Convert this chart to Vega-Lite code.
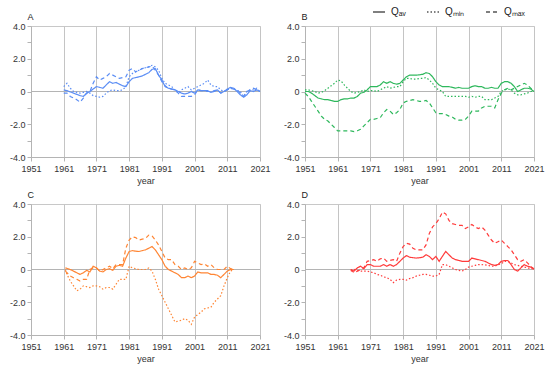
{
"$schema":"https://vega.github.io/schema/vega-lite/v6.json",
"padding":{"left":8,"right":5,"top":4,"bottom":2},
"background":"white",
"config":{"font":"Liberation Sans","view":{"stroke":"#c8c8c8"},
 "axis":{"labelFontSize":9,"titleFontSize":9,"titleFontWeight":"normal","labelColor":"#333","titleColor":"#333","domainColor":"#b4b4b4","tickColor":"#b4b4b4","gridColor":"#c4c4c4","labelOverlap":false,"labelFlush":false,"labelBound":false},
 "axisY":{"titleAngle":0,"titleAlign":"left","titleBaseline":"alphabetic","titleX":-4,"titleY":-7,"titleColor":"#222"}},
"datasets":{
"A":[
{"x":1961,"s":"av","v":0.1},{"x":1962,"s":"av","v":0.05},{"x":1964,"s":"av","v":-0.1},{"x":1966,"s":"av","v":-0.25},{"x":1967,"s":"av","v":-0.3},{"x":1968,"s":"av","v":-0.1},{"x":1969,"s":"av","v":0},{"x":1970,"s":"av","v":0.15},{"x":1971,"s":"av","v":0.3},{"x":1972,"s":"av","v":0.25},{"x":1973,"s":"av","v":0.2},{"x":1974,"s":"av","v":0.4},{"x":1975,"s":"av","v":0.6},{"x":1976,"s":"av","v":0.5},{"x":1977,"s":"av","v":0.55},{"x":1978,"s":"av","v":0.45},{"x":1979,"s":"av","v":0.35},{"x":1980,"s":"av","v":0.3},{"x":1981,"s":"av","v":0.6},{"x":1982,"s":"av","v":0.8},{"x":1983,"s":"av","v":0.85},{"x":1984,"s":"av","v":0.9},{"x":1985,"s":"av","v":0.95},{"x":1986,"s":"av","v":1.05},{"x":1987,"s":"av","v":1.15},{"x":1988,"s":"av","v":1.35},{"x":1989,"s":"av","v":1.4},{"x":1990,"s":"av","v":1.0},{"x":1991,"s":"av","v":0.7},{"x":1992,"s":"av","v":0.3},{"x":1993,"s":"av","v":0.2},{"x":1994,"s":"av","v":0.15},{"x":1995,"s":"av","v":0.1},{"x":1996,"s":"av","v":0},{"x":1997,"s":"av","v":-0.1},{"x":1998,"s":"av","v":-0.15},{"x":1999,"s":"av","v":-0.1},{"x":2000,"s":"av","v":0},{"x":2001,"s":"av","v":-0.1},{"x":2002,"s":"av","v":0.1},{"x":2003,"s":"av","v":0.05},{"x":2004,"s":"av","v":0.05},{"x":2005,"s":"av","v":0.05},{"x":2006,"s":"av","v":-0.05},{"x":2007,"s":"av","v":0},{"x":2008,"s":"av","v":0.1},{"x":2009,"s":"av","v":-0.1},{"x":2010,"s":"av","v":0},{"x":2011,"s":"av","v":0.15},{"x":2012,"s":"av","v":0.25},{"x":2013,"s":"av","v":0.2},{"x":2014,"s":"av","v":0},{"x":2015,"s":"av","v":-0.2},{"x":2016,"s":"av","v":-0.35},{"x":2017,"s":"av","v":-0.2},{"x":2018,"s":"av","v":0.05},{"x":2019,"s":"av","v":0},{"x":2020,"s":"av","v":0.1},{"x":2021,"s":"av","v":0},
{"x":1961,"s":"min","v":0.3},{"x":1962,"s":"min","v":0.5},{"x":1963,"s":"min","v":0.2},{"x":1964,"s":"min","v":0},{"x":1965,"s":"min","v":-0.05},{"x":1966,"s":"min","v":-0.1},{"x":1967,"s":"min","v":-0.05},{"x":1968,"s":"min","v":0},{"x":1969,"s":"min","v":-0.1},{"x":1970,"s":"min","v":-0.25},{"x":1971,"s":"min","v":-0.3},{"x":1972,"s":"min","v":-0.35},{"x":1973,"s":"min","v":-0.3},{"x":1974,"s":"min","v":-0.1},{"x":1975,"s":"min","v":0.05},{"x":1976,"s":"min","v":0.1},{"x":1977,"s":"min","v":0.05},{"x":1978,"s":"min","v":0.05},{"x":1979,"s":"min","v":0.1},{"x":1980,"s":"min","v":0.3},{"x":1981,"s":"min","v":0.9},{"x":1982,"s":"min","v":1.1},{"x":1983,"s":"min","v":1.2},{"x":1984,"s":"min","v":1.3},{"x":1985,"s":"min","v":1.4},{"x":1986,"s":"min","v":1.45},{"x":1987,"s":"min","v":1.5},{"x":1988,"s":"min","v":1.6},{"x":1989,"s":"min","v":1.5},{"x":1990,"s":"min","v":1.3},{"x":1991,"s":"min","v":0.8},{"x":1992,"s":"min","v":0.5},{"x":1993,"s":"min","v":0.4},{"x":1994,"s":"min","v":0.3},{"x":1995,"s":"min","v":0.1},{"x":1996,"s":"min","v":-0.1},{"x":1997,"s":"min","v":0.1},{"x":1998,"s":"min","v":0.2},{"x":1999,"s":"min","v":0.3},{"x":2000,"s":"min","v":0.1},{"x":2001,"s":"min","v":0.2},{"x":2002,"s":"min","v":0.3},{"x":2003,"s":"min","v":0.4},{"x":2004,"s":"min","v":0.5},{"x":2005,"s":"min","v":0.7},{"x":2006,"s":"min","v":0.4},{"x":2007,"s":"min","v":0.3},{"x":2008,"s":"min","v":0.3},{"x":2009,"s":"min","v":0.1},{"x":2010,"s":"min","v":0},{"x":2011,"s":"min","v":0.1},{"x":2012,"s":"min","v":0.2},{"x":2013,"s":"min","v":0.15},{"x":2014,"s":"min","v":0.05},{"x":2015,"s":"min","v":0},{"x":2016,"s":"min","v":-0.3},{"x":2017,"s":"min","v":0},{"x":2018,"s":"min","v":0.1},{"x":2019,"s":"min","v":0.1},{"x":2020,"s":"min","v":0.2},{"x":2021,"s":"min","v":0},
{"x":1961,"s":"max","v":-0.1},{"x":1962,"s":"max","v":-0.1},{"x":1963,"s":"max","v":-0.3},{"x":1964,"s":"max","v":-0.4},{"x":1965,"s":"max","v":-0.5},{"x":1966,"s":"max","v":-0.65},{"x":1967,"s":"max","v":-0.4},{"x":1968,"s":"max","v":-0.1},{"x":1969,"s":"max","v":0},{"x":1970,"s":"max","v":0.5},{"x":1971,"s":"max","v":0.9},{"x":1972,"s":"max","v":0.7},{"x":1973,"s":"max","v":0.8},{"x":1974,"s":"max","v":0.9},{"x":1975,"s":"max","v":1.1},{"x":1976,"s":"max","v":1.0},{"x":1977,"s":"max","v":0.9},{"x":1978,"s":"max","v":0.8},{"x":1979,"s":"max","v":0.85},{"x":1980,"s":"max","v":0.9},{"x":1981,"s":"max","v":1.3},{"x":1982,"s":"max","v":1.4},{"x":1983,"s":"max","v":1.2},{"x":1984,"s":"max","v":1.3},{"x":1985,"s":"max","v":1.4},{"x":1986,"s":"max","v":1.45},{"x":1987,"s":"max","v":1.5},{"x":1988,"s":"max","v":1.55},{"x":1989,"s":"max","v":1.3},{"x":1990,"s":"max","v":1.0},{"x":1991,"s":"max","v":0.6},{"x":1992,"s":"max","v":0.35},{"x":1993,"s":"max","v":0.2},{"x":1994,"s":"max","v":0.15},{"x":1995,"s":"max","v":0.1},{"x":1996,"s":"max","v":-0.1},{"x":1997,"s":"max","v":-0.3},{"x":1998,"s":"max","v":-0.3},{"x":1999,"s":"max","v":-0.3},{"x":2000,"s":"max","v":-0.3},{"x":2001,"s":"max","v":-0.2},{"x":2002,"s":"max","v":0.1},{"x":2003,"s":"max","v":0.05},{"x":2004,"s":"max","v":0.05},{"x":2005,"s":"max","v":0},{"x":2006,"s":"max","v":0},{"x":2007,"s":"max","v":0.05},{"x":2008,"s":"max","v":0.1},{"x":2009,"s":"max","v":-0.1},{"x":2010,"s":"max","v":0},{"x":2011,"s":"max","v":0.1},{"x":2012,"s":"max","v":0.2},{"x":2013,"s":"max","v":0.15},{"x":2014,"s":"max","v":0.1},{"x":2015,"s":"max","v":-0.1},{"x":2016,"s":"max","v":-0.3},{"x":2017,"s":"max","v":0},{"x":2018,"s":"max","v":0.1},{"x":2019,"s":"max","v":0.2},{"x":2020,"s":"max","v":0.1},{"x":2021,"s":"max","v":0}
],
"B":[
{"x":1951,"s":"av","v":0},{"x":1952,"s":"av","v":0},{"x":1953,"s":"av","v":-0.1},{"x":1954,"s":"av","v":-0.25},{"x":1955,"s":"av","v":-0.4},{"x":1956,"s":"av","v":-0.45},{"x":1957,"s":"av","v":-0.5},{"x":1958,"s":"av","v":-0.5},{"x":1959,"s":"av","v":-0.55},{"x":1960,"s":"av","v":-0.6},{"x":1961,"s":"av","v":-0.6},{"x":1962,"s":"av","v":-0.5},{"x":1963,"s":"av","v":-0.45},{"x":1964,"s":"av","v":-0.45},{"x":1965,"s":"av","v":-0.4},{"x":1966,"s":"av","v":-0.4},{"x":1967,"s":"av","v":-0.3},{"x":1968,"s":"av","v":-0.1},{"x":1969,"s":"av","v":-0.05},{"x":1970,"s":"av","v":0.1},{"x":1971,"s":"av","v":0.3},{"x":1972,"s":"av","v":0.3},{"x":1973,"s":"av","v":0.3},{"x":1974,"s":"av","v":0.4},{"x":1975,"s":"av","v":0.6},{"x":1976,"s":"av","v":0.5},{"x":1977,"s":"av","v":0.6},{"x":1978,"s":"av","v":0.5},{"x":1979,"s":"av","v":0.45},{"x":1980,"s":"av","v":0.5},{"x":1981,"s":"av","v":0.7},{"x":1982,"s":"av","v":0.9},{"x":1983,"s":"av","v":1.0},{"x":1984,"s":"av","v":1.0},{"x":1985,"s":"av","v":1.0},{"x":1986,"s":"av","v":1.02},{"x":1987,"s":"av","v":1.05},{"x":1988,"s":"av","v":1.15},{"x":1989,"s":"av","v":1.1},{"x":1990,"s":"av","v":0.9},{"x":1991,"s":"av","v":0.6},{"x":1992,"s":"av","v":0.4},{"x":1993,"s":"av","v":0.3},{"x":1994,"s":"av","v":0.3},{"x":1995,"s":"av","v":0.3},{"x":1996,"s":"av","v":0.25},{"x":1997,"s":"av","v":0.2},{"x":1998,"s":"av","v":0.25},{"x":1999,"s":"av","v":0.2},{"x":2000,"s":"av","v":0.2},{"x":2001,"s":"av","v":0.2},{"x":2002,"s":"av","v":0.3},{"x":2003,"s":"av","v":0.35},{"x":2004,"s":"av","v":0.3},{"x":2005,"s":"av","v":0.3},{"x":2006,"s":"av","v":0.2},{"x":2007,"s":"av","v":0.2},{"x":2008,"s":"av","v":0.25},{"x":2009,"s":"av","v":0.2},{"x":2010,"s":"av","v":0.2},{"x":2011,"s":"av","v":0.5},{"x":2012,"s":"av","v":0.6},{"x":2013,"s":"av","v":0.6},{"x":2014,"s":"av","v":0.5},{"x":2015,"s":"av","v":0.3},{"x":2016,"s":"av","v":0},{"x":2017,"s":"av","v":0.1},{"x":2018,"s":"av","v":0.2},{"x":2019,"s":"av","v":0.2},{"x":2020,"s":"av","v":0.15},{"x":2021,"s":"av","v":0},
{"x":1951,"s":"min","v":0.1},{"x":1952,"s":"min","v":0.1},{"x":1953,"s":"min","v":0.05},{"x":1954,"s":"min","v":0},{"x":1955,"s":"min","v":-0.1},{"x":1956,"s":"min","v":-0.05},{"x":1957,"s":"min","v":0.05},{"x":1958,"s":"min","v":0.2},{"x":1959,"s":"min","v":0.35},{"x":1960,"s":"min","v":0.5},{"x":1961,"s":"min","v":0.7},{"x":1962,"s":"min","v":0.65},{"x":1963,"s":"min","v":0.4},{"x":1964,"s":"min","v":0.2},{"x":1965,"s":"min","v":0},{"x":1966,"s":"min","v":-0.1},{"x":1967,"s":"min","v":-0.05},{"x":1968,"s":"min","v":0},{"x":1969,"s":"min","v":0.1},{"x":1970,"s":"min","v":0},{"x":1971,"s":"min","v":0.05},{"x":1972,"s":"min","v":0.05},{"x":1973,"s":"min","v":0},{"x":1974,"s":"min","v":0.1},{"x":1975,"s":"min","v":0.2},{"x":1976,"s":"min","v":0.3},{"x":1977,"s":"min","v":0.2},{"x":1978,"s":"min","v":0.25},{"x":1979,"s":"min","v":0.3},{"x":1980,"s":"min","v":0.3},{"x":1981,"s":"min","v":0.6},{"x":1982,"s":"min","v":0.8},{"x":1983,"s":"min","v":0.8},{"x":1984,"s":"min","v":0.75},{"x":1985,"s":"min","v":0.75},{"x":1986,"s":"min","v":0.8},{"x":1987,"s":"min","v":0.8},{"x":1988,"s":"min","v":0.85},{"x":1989,"s":"min","v":0.7},{"x":1990,"s":"min","v":0.5},{"x":1991,"s":"min","v":0.2},{"x":1992,"s":"min","v":0.1},{"x":1993,"s":"min","v":0},{"x":1994,"s":"min","v":-0.3},{"x":1995,"s":"min","v":-0.3},{"x":1996,"s":"min","v":-0.3},{"x":1997,"s":"min","v":-0.3},{"x":1998,"s":"min","v":-0.3},{"x":1999,"s":"min","v":-0.3},{"x":2000,"s":"min","v":-0.3},{"x":2001,"s":"min","v":-0.35},{"x":2002,"s":"min","v":-0.3},{"x":2003,"s":"min","v":-0.35},{"x":2004,"s":"min","v":-0.3},{"x":2005,"s":"min","v":-0.3},{"x":2006,"s":"min","v":-0.5},{"x":2007,"s":"min","v":-0.5},{"x":2008,"s":"min","v":-0.5},{"x":2009,"s":"min","v":-0.4},{"x":2010,"s":"min","v":-0.3},{"x":2011,"s":"min","v":0},{"x":2012,"s":"min","v":0.1},{"x":2013,"s":"min","v":0.15},{"x":2014,"s":"min","v":0.1},{"x":2015,"s":"min","v":-0.1},{"x":2016,"s":"min","v":-0.2},{"x":2017,"s":"min","v":-0.2},{"x":2018,"s":"min","v":-0.15},{"x":2019,"s":"min","v":-0.1},{"x":2020,"s":"min","v":0},{"x":2021,"s":"min","v":0},
{"x":1951,"s":"max","v":-0.1},{"x":1952,"s":"max","v":-0.3},{"x":1953,"s":"max","v":-0.6},{"x":1954,"s":"max","v":-0.9},{"x":1955,"s":"max","v":-1.2},{"x":1956,"s":"max","v":-1.5},{"x":1957,"s":"max","v":-1.7},{"x":1958,"s":"max","v":-1.8},{"x":1959,"s":"max","v":-2.0},{"x":1960,"s":"max","v":-2.2},{"x":1961,"s":"max","v":-2.4},{"x":1962,"s":"max","v":-2.4},{"x":1963,"s":"max","v":-2.4},{"x":1964,"s":"max","v":-2.4},{"x":1965,"s":"max","v":-2.4},{"x":1966,"s":"max","v":-2.45},{"x":1967,"s":"max","v":-2.4},{"x":1968,"s":"max","v":-2.3},{"x":1969,"s":"max","v":-2.1},{"x":1970,"s":"max","v":-1.9},{"x":1971,"s":"max","v":-1.7},{"x":1972,"s":"max","v":-1.7},{"x":1973,"s":"max","v":-1.65},{"x":1974,"s":"max","v":-1.6},{"x":1975,"s":"max","v":-1.3},{"x":1976,"s":"max","v":-1.1},{"x":1977,"s":"max","v":-1.2},{"x":1978,"s":"max","v":-1.4},{"x":1979,"s":"max","v":-1.3},{"x":1980,"s":"max","v":-1.1},{"x":1981,"s":"max","v":-0.7},{"x":1982,"s":"max","v":-0.6},{"x":1983,"s":"max","v":-0.55},{"x":1984,"s":"max","v":-0.5},{"x":1985,"s":"max","v":-0.55},{"x":1986,"s":"max","v":-0.6},{"x":1987,"s":"max","v":-0.6},{"x":1988,"s":"max","v":-0.55},{"x":1989,"s":"max","v":-0.7},{"x":1990,"s":"max","v":-1.0},{"x":1991,"s":"max","v":-1.3},{"x":1992,"s":"max","v":-1.35},{"x":1993,"s":"max","v":-1.35},{"x":1994,"s":"max","v":-1.4},{"x":1995,"s":"max","v":-1.5},{"x":1996,"s":"max","v":-1.55},{"x":1997,"s":"max","v":-1.7},{"x":1998,"s":"max","v":-1.75},{"x":1999,"s":"max","v":-1.75},{"x":2000,"s":"max","v":-1.7},{"x":2001,"s":"max","v":-1.5},{"x":2002,"s":"max","v":-1.2},{"x":2003,"s":"max","v":-1.2},{"x":2004,"s":"max","v":-1.2},{"x":2005,"s":"max","v":-1.0},{"x":2006,"s":"max","v":-0.9},{"x":2007,"s":"max","v":-0.9},{"x":2008,"s":"max","v":-0.9},{"x":2009,"s":"max","v":-1.0},{"x":2010,"s":"max","v":-0.5},{"x":2011,"s":"max","v":-0.1},{"x":2012,"s":"max","v":0.1},{"x":2013,"s":"max","v":0.2},{"x":2014,"s":"max","v":0.1},{"x":2015,"s":"max","v":0.2},{"x":2016,"s":"max","v":0.3},{"x":2017,"s":"max","v":0.4},{"x":2018,"s":"max","v":0.5},{"x":2019,"s":"max","v":0.4},{"x":2020,"s":"max","v":0.2},{"x":2021,"s":"max","v":0}
],
"C":[
{"x":1961.5,"s":"av","v":0.1},{"x":1963,"s":"av","v":0},{"x":1964,"s":"av","v":-0.1},{"x":1965,"s":"av","v":-0.2},{"x":1966,"s":"av","v":-0.3},{"x":1967,"s":"av","v":-0.2},{"x":1968,"s":"av","v":-0.05},{"x":1969,"s":"av","v":-0.15},{"x":1970,"s":"av","v":0.2},{"x":1971,"s":"av","v":0.1},{"x":1972,"s":"av","v":-0.1},{"x":1973,"s":"av","v":-0.15},{"x":1974,"s":"av","v":0},{"x":1975,"s":"av","v":0.05},{"x":1976,"s":"av","v":-0.05},{"x":1977,"s":"av","v":0.2},{"x":1978,"s":"av","v":0.25},{"x":1979,"s":"av","v":0.2},{"x":1980,"s":"av","v":0.7},{"x":1981,"s":"av","v":1.1},{"x":1982,"s":"av","v":1.15},{"x":1983,"s":"av","v":1.12},{"x":1984,"s":"av","v":1.1},{"x":1985,"s":"av","v":1.15},{"x":1986,"s":"av","v":1.2},{"x":1987,"s":"av","v":1.3},{"x":1988,"s":"av","v":1.4},{"x":1989,"s":"av","v":1.2},{"x":1990,"s":"av","v":0.9},{"x":1991,"s":"av","v":0.6},{"x":1992,"s":"av","v":0.2},{"x":1993,"s":"av","v":0},{"x":1994,"s":"av","v":-0.1},{"x":1995,"s":"av","v":-0.2},{"x":1996,"s":"av","v":-0.3},{"x":1997,"s":"av","v":-0.5},{"x":1998,"s":"av","v":-0.5},{"x":1999,"s":"av","v":-0.4},{"x":2000,"s":"av","v":-0.5},{"x":2001,"s":"av","v":-0.4},{"x":2002,"s":"av","v":-0.15},{"x":2003,"s":"av","v":-0.2},{"x":2004,"s":"av","v":-0.2},{"x":2005,"s":"av","v":-0.2},{"x":2006,"s":"av","v":-0.3},{"x":2007,"s":"av","v":-0.3},{"x":2008,"s":"av","v":-0.35},{"x":2009,"s":"av","v":-0.5},{"x":2010,"s":"av","v":-0.3},{"x":2011,"s":"av","v":-0.1},{"x":2012,"s":"av","v":0},{"x":2013,"s":"av","v":0},
{"x":1961.5,"s":"min","v":0},{"x":1962,"s":"min","v":-0.3},{"x":1963,"s":"min","v":-0.7},{"x":1964,"s":"min","v":-1.0},{"x":1965,"s":"min","v":-1.3},{"x":1966,"s":"min","v":-1.2},{"x":1967,"s":"min","v":-1.0},{"x":1968,"s":"min","v":-1.05},{"x":1969,"s":"min","v":-1.1},{"x":1970,"s":"min","v":-1.0},{"x":1971,"s":"min","v":-1.0},{"x":1972,"s":"min","v":-1.05},{"x":1973,"s":"min","v":-1.2},{"x":1974,"s":"min","v":-1.1},{"x":1975,"s":"min","v":-1.1},{"x":1976,"s":"min","v":-1.2},{"x":1977,"s":"min","v":-0.9},{"x":1978,"s":"min","v":-0.6},{"x":1979,"s":"min","v":-0.6},{"x":1980,"s":"min","v":-0.6},{"x":1981,"s":"min","v":0.2},{"x":1982,"s":"min","v":0.1},{"x":1983,"s":"min","v":0.05},{"x":1984,"s":"min","v":0},{"x":1985,"s":"min","v":0},{"x":1986,"s":"min","v":0},{"x":1987,"s":"min","v":0.1},{"x":1988,"s":"min","v":-0.1},{"x":1989,"s":"min","v":-0.6},{"x":1990,"s":"min","v":-1.2},{"x":1991,"s":"min","v":-1.6},{"x":1992,"s":"min","v":-2.0},{"x":1993,"s":"min","v":-2.4},{"x":1994,"s":"min","v":-2.8},{"x":1995,"s":"min","v":-3.2},{"x":1996,"s":"min","v":-3.15},{"x":1997,"s":"min","v":-3.1},{"x":1998,"s":"min","v":-3.0},{"x":1999,"s":"min","v":-3.1},{"x":2000,"s":"min","v":-3.35},{"x":2001,"s":"min","v":-2.9},{"x":2002,"s":"min","v":-2.75},{"x":2003,"s":"min","v":-2.6},{"x":2004,"s":"min","v":-2.4},{"x":2005,"s":"min","v":-2.35},{"x":2006,"s":"min","v":-2.3},{"x":2007,"s":"min","v":-2.0},{"x":2008,"s":"min","v":-1.8},{"x":2009,"s":"min","v":-1.6},{"x":2010,"s":"min","v":-1.0},{"x":2011,"s":"min","v":-0.5},{"x":2012,"s":"min","v":-0.1},{"x":2013,"s":"min","v":0},
{"x":1961.5,"s":"max","v":-0.1},{"x":1962,"s":"max","v":-0.2},{"x":1963,"s":"max","v":-0.4},{"x":1964,"s":"max","v":-0.5},{"x":1965,"s":"max","v":-0.6},{"x":1966,"s":"max","v":-0.7},{"x":1967,"s":"max","v":-0.6},{"x":1968,"s":"max","v":-0.6},{"x":1969,"s":"max","v":0},{"x":1970,"s":"max","v":0.1},{"x":1971,"s":"max","v":0.1},{"x":1972,"s":"max","v":-0.1},{"x":1973,"s":"max","v":0},{"x":1974,"s":"max","v":0.1},{"x":1975,"s":"max","v":0.2},{"x":1976,"s":"max","v":0.05},{"x":1977,"s":"max","v":0.3},{"x":1978,"s":"max","v":0.3},{"x":1979,"s":"max","v":0.3},{"x":1980,"s":"max","v":1.3},{"x":1981,"s":"max","v":1.8},{"x":1982,"s":"max","v":2.0},{"x":1983,"s":"max","v":1.95},{"x":1984,"s":"max","v":1.8},{"x":1985,"s":"max","v":1.85},{"x":1986,"s":"max","v":1.9},{"x":1987,"s":"max","v":2.1},{"x":1988,"s":"max","v":2.05},{"x":1989,"s":"max","v":1.8},{"x":1990,"s":"max","v":1.5},{"x":1991,"s":"max","v":1.1},{"x":1992,"s":"max","v":0.7},{"x":1993,"s":"max","v":0.6},{"x":1994,"s":"max","v":0.6},{"x":1995,"s":"max","v":0.3},{"x":1996,"s":"max","v":0.2},{"x":1997,"s":"max","v":0},{"x":1998,"s":"max","v":0.1},{"x":1999,"s":"max","v":0},{"x":2000,"s":"max","v":0.1},{"x":2001,"s":"max","v":0.5},{"x":2002,"s":"max","v":0.4},{"x":2003,"s":"max","v":0.3},{"x":2004,"s":"max","v":0.35},{"x":2005,"s":"max","v":0.2},{"x":2006,"s":"max","v":0.3},{"x":2007,"s":"max","v":0.1},{"x":2008,"s":"max","v":0},{"x":2009,"s":"max","v":0},{"x":2010,"s":"max","v":0},{"x":2011,"s":"max","v":0.2},{"x":2012,"s":"max","v":0.05},{"x":2013,"s":"max","v":0}
],
"D":[
{"x":1965,"s":"av","v":0},{"x":1966,"s":"av","v":-0.1},{"x":1967,"s":"av","v":0.1},{"x":1968,"s":"av","v":0.2},{"x":1969,"s":"av","v":0.05},{"x":1970,"s":"av","v":0.3},{"x":1971,"s":"av","v":0.3},{"x":1972,"s":"av","v":0.2},{"x":1973,"s":"av","v":0.2},{"x":1974,"s":"av","v":0.2},{"x":1975,"s":"av","v":0.3},{"x":1976,"s":"av","v":0.2},{"x":1977,"s":"av","v":0.3},{"x":1978,"s":"av","v":0.2},{"x":1979,"s":"av","v":0.3},{"x":1980,"s":"av","v":0.5},{"x":1981,"s":"av","v":0.7},{"x":1982,"s":"av","v":0.85},{"x":1983,"s":"av","v":0.75},{"x":1984,"s":"av","v":0.72},{"x":1985,"s":"av","v":0.7},{"x":1986,"s":"av","v":0.72},{"x":1987,"s":"av","v":0.75},{"x":1988,"s":"av","v":0.9},{"x":1989,"s":"av","v":0.8},{"x":1990,"s":"av","v":0.6},{"x":1991,"s":"av","v":0.8},{"x":1992,"s":"av","v":0.5},{"x":1993,"s":"av","v":0.8},{"x":1994,"s":"av","v":1.1},{"x":1995,"s":"av","v":0.9},{"x":1996,"s":"av","v":0.7},{"x":1997,"s":"av","v":0.6},{"x":1998,"s":"av","v":0.55},{"x":1999,"s":"av","v":0.5},{"x":2000,"s":"av","v":0.5},{"x":2001,"s":"av","v":0.5},{"x":2002,"s":"av","v":0.7},{"x":2003,"s":"av","v":0.65},{"x":2004,"s":"av","v":0.6},{"x":2005,"s":"av","v":0.55},{"x":2006,"s":"av","v":0.5},{"x":2007,"s":"av","v":0.4},{"x":2008,"s":"av","v":0.3},{"x":2009,"s":"av","v":0.25},{"x":2010,"s":"av","v":0.3},{"x":2011,"s":"av","v":0.5},{"x":2012,"s":"av","v":0.55},{"x":2013,"s":"av","v":0.55},{"x":2014,"s":"av","v":0.3},{"x":2015,"s":"av","v":0},{"x":2016,"s":"av","v":-0.1},{"x":2017,"s":"av","v":0.1},{"x":2018,"s":"av","v":0.3},{"x":2019,"s":"av","v":0.2},{"x":2020,"s":"av","v":0.15},{"x":2021,"s":"av","v":0.05},
{"x":1965,"s":"min","v":-0.1},{"x":1966,"s":"min","v":0},{"x":1967,"s":"min","v":-0.05},{"x":1968,"s":"min","v":-0.1},{"x":1969,"s":"min","v":-0.1},{"x":1970,"s":"min","v":-0.1},{"x":1971,"s":"min","v":-0.15},{"x":1972,"s":"min","v":-0.2},{"x":1973,"s":"min","v":-0.3},{"x":1974,"s":"min","v":-0.35},{"x":1975,"s":"min","v":-0.45},{"x":1976,"s":"min","v":-0.5},{"x":1977,"s":"min","v":-0.6},{"x":1978,"s":"min","v":-0.8},{"x":1979,"s":"min","v":-0.65},{"x":1980,"s":"min","v":-0.6},{"x":1981,"s":"min","v":-0.6},{"x":1982,"s":"min","v":-0.65},{"x":1983,"s":"min","v":-0.55},{"x":1984,"s":"min","v":-0.5},{"x":1985,"s":"min","v":-0.4},{"x":1986,"s":"min","v":-0.35},{"x":1987,"s":"min","v":-0.3},{"x":1988,"s":"min","v":-0.3},{"x":1989,"s":"min","v":-0.35},{"x":1990,"s":"min","v":-0.4},{"x":1991,"s":"min","v":-0.4},{"x":1992,"s":"min","v":-0.3},{"x":1993,"s":"min","v":0.3},{"x":1994,"s":"min","v":0.3},{"x":1995,"s":"min","v":0.2},{"x":1996,"s":"min","v":0.1},{"x":1997,"s":"min","v":0},{"x":1998,"s":"min","v":-0.05},{"x":1999,"s":"min","v":-0.1},{"x":2000,"s":"min","v":0},{"x":2001,"s":"min","v":0.15},{"x":2002,"s":"min","v":0.2},{"x":2003,"s":"min","v":0.25},{"x":2004,"s":"min","v":0.3},{"x":2005,"s":"min","v":0.3},{"x":2006,"s":"min","v":0.28},{"x":2007,"s":"min","v":0.25},{"x":2008,"s":"min","v":0.2},{"x":2009,"s":"min","v":0.2},{"x":2010,"s":"min","v":0.3},{"x":2011,"s":"min","v":0.35},{"x":2012,"s":"min","v":0.5},{"x":2013,"s":"min","v":0.5},{"x":2014,"s":"min","v":0.4},{"x":2015,"s":"min","v":0.3},{"x":2016,"s":"min","v":0.25},{"x":2017,"s":"min","v":0.2},{"x":2018,"s":"min","v":0.15},{"x":2019,"s":"min","v":0.1},{"x":2020,"s":"min","v":0.05},{"x":2021,"s":"min","v":0.05},
{"x":1965,"s":"max","v":0},{"x":1966,"s":"max","v":-0.2},{"x":1967,"s":"max","v":-0.1},{"x":1968,"s":"max","v":0},{"x":1969,"s":"max","v":0.1},{"x":1970,"s":"max","v":0.5},{"x":1971,"s":"max","v":0.55},{"x":1972,"s":"max","v":0.6},{"x":1973,"s":"max","v":0.5},{"x":1974,"s":"max","v":0.65},{"x":1975,"s":"max","v":0.7},{"x":1976,"s":"max","v":0.5},{"x":1977,"s":"max","v":0.55},{"x":1978,"s":"max","v":0.6},{"x":1979,"s":"max","v":0.5},{"x":1980,"s":"max","v":1.0},{"x":1981,"s":"max","v":1.4},{"x":1982,"s":"max","v":1.6},{"x":1983,"s":"max","v":1.55},{"x":1984,"s":"max","v":1.3},{"x":1985,"s":"max","v":1.2},{"x":1986,"s":"max","v":1.2},{"x":1987,"s":"max","v":1.2},{"x":1988,"s":"max","v":1.5},{"x":1989,"s":"max","v":2.2},{"x":1990,"s":"max","v":2.6},{"x":1991,"s":"max","v":2.8},{"x":1992,"s":"max","v":3.1},{"x":1993,"s":"max","v":3.5},{"x":1994,"s":"max","v":3.4},{"x":1995,"s":"max","v":3.0},{"x":1996,"s":"max","v":2.8},{"x":1997,"s":"max","v":2.75},{"x":1998,"s":"max","v":2.7},{"x":1999,"s":"max","v":2.7},{"x":2000,"s":"max","v":2.5},{"x":2001,"s":"max","v":2.6},{"x":2002,"s":"max","v":2.75},{"x":2003,"s":"max","v":2.6},{"x":2004,"s":"max","v":2.5},{"x":2005,"s":"max","v":2.6},{"x":2006,"s":"max","v":2.4},{"x":2007,"s":"max","v":2.1},{"x":2008,"s":"max","v":1.8},{"x":2009,"s":"max","v":1.6},{"x":2010,"s":"max","v":1.7},{"x":2011,"s":"max","v":1.8},{"x":2012,"s":"max","v":1.6},{"x":2013,"s":"max","v":1.4},{"x":2014,"s":"max","v":1.2},{"x":2015,"s":"max","v":0.9},{"x":2016,"s":"max","v":0.6},{"x":2017,"s":"max","v":0.5},{"x":2018,"s":"max","v":0.6},{"x":2019,"s":"max","v":0.4},{"x":2020,"s":"max","v":0.2},{"x":2021,"s":"max","v":0}
]
},
"resolve":{"scale":{"strokeDash":"independent"},"legend":{"strokeDash":"independent"}},
"spacing":3,
"vconcat":[
{"spacing":11,"resolve":{"scale":{"strokeDash":"independent"},"legend":{"strokeDash":"independent"}},
 "hconcat":[
 {"width":229,"height":131,
  "layer":[
   {"data":{"values":[{}]},"mark":{"type":"rule","color":"#b4b4b4"},"encoding":{"y":{"datum":0,"type":"quantitative","scale":{"domain":[-4,4],"nice":false},"axis":{"values":[-4,-3,-2,-1,0,1,2,3,4],"labelExpr":"datum.value % 2 != 0 ? '' : (datum.value == 0 ? '0' : (datum.value < 0 ? '-' + format(-datum.value, '.1f') : format(datum.value, '.1f')))","labelOverlap":false,"title":"A","grid":false,"tickSize":4,"labelPadding":2}}}},
   {"data":{"name":"A"},"mark":{"type":"line","color":"#5a8df5","strokeWidth":1.2},
    "encoding":{
     "x":{"field":"x","type":"quantitative","scale":{"domain":[1951,2021],"nice":false},"axis":{"values":[1951,1961,1971,1981,1991,2001,2011,2021],"format":"d","title":"year","grid":true,"tickSize":4,"labelPadding":3,"titlePadding":3}},
     "y":{"field":"v","type":"quantitative","scale":{"domain":[-4,4],"nice":false},"axis":{"values":[-4,-3,-2,-1,0,1,2,3,4],"labelExpr":"datum.value % 2 != 0 ? '' : (datum.value == 0 ? '0' : (datum.value < 0 ? '-' + format(-datum.value, '.1f') : format(datum.value, '.1f')))","labelOverlap":false,"title":"A","grid":false,"tickSize":4,"labelPadding":2}},
     "strokeDash":{"field":"s","type":"nominal","scale":{"domain":["av","min","max"],"range":[[1,0],[1.5,2],[4,3]]},"legend":null}}}
  ]},
 {"width":229,"height":131,
  "layer":[
   {"data":{"values":[{}]},"mark":{"type":"rule","color":"#b4b4b4"},"encoding":{"y":{"datum":0,"type":"quantitative","scale":{"domain":[-4,4],"nice":false},"axis":{"values":[-4,-3,-2,-1,0,1,2,3,4],"labelExpr":"datum.value % 2 != 0 ? '' : (datum.value == 0 ? '0' : (datum.value < 0 ? '-' + format(-datum.value, '.1f') : format(datum.value, '.1f')))","labelOverlap":false,"title":"B","grid":false,"tickSize":4,"labelPadding":2}}}},
   {"data":{"name":"B"},"mark":{"type":"line","color":"#2eb85c","strokeWidth":1.2},
    "encoding":{
     "x":{"field":"x","type":"quantitative","scale":{"domain":[1951,2021],"nice":false},"axis":{"values":[1951,1961,1971,1981,1991,2001,2011,2021],"format":"d","title":"year","grid":true,"tickSize":4,"labelPadding":3,"titlePadding":3}},
     "y":{"field":"v","type":"quantitative","scale":{"domain":[-4,4],"nice":false},"axis":{"values":[-4,-3,-2,-1,0,1,2,3,4],"labelExpr":"datum.value % 2 != 0 ? '' : (datum.value == 0 ? '0' : (datum.value < 0 ? '-' + format(-datum.value, '.1f') : format(datum.value, '.1f')))","labelOverlap":false,"title":"B","grid":false,"tickSize":4,"labelPadding":2}},
     "strokeDash":{"field":"s","type":"nominal","scale":{"domain":["av","min","max"],"range":[[1,0],[1.5,2],[4,3]]},
      "legend":{"orient":"none","legendX":67,"legendY":-21,"direction":"horizontal","title":null,"symbolType":"stroke","symbolStrokeColor":"#000","symbolStrokeWidth":1.2,"symbolSize":144,"labelFontSize":10,"labelColor":"#222","labelOffset":5,"columnPadding":18,"labelExpr":"datum.label == 'av' ? 'Qₐᵥ' : (datum.label == 'min' ? 'Qₘᵢₙ' : 'Qₘₐₓ')","encode":{"symbols":{"update":{"stroke":{"value":"#000"}}}}}}}}
  ]}
 ]},
{"spacing":11,"resolve":{"scale":{"strokeDash":"independent"},"legend":{"strokeDash":"independent"}},
 "hconcat":[
 {"width":229,"height":131,
  "layer":[
   {"data":{"values":[{}]},"mark":{"type":"rule","color":"#b4b4b4"},"encoding":{"y":{"datum":0,"type":"quantitative","scale":{"domain":[-4,4],"nice":false},"axis":{"values":[-4,-3,-2,-1,0,1,2,3,4],"labelExpr":"datum.value % 2 != 0 ? '' : (datum.value == 0 ? '0' : (datum.value < 0 ? '-' + format(-datum.value, '.1f') : format(datum.value, '.1f')))","labelOverlap":false,"title":"C","grid":false,"tickSize":4,"labelPadding":2}}}},
   {"data":{"name":"C"},"mark":{"type":"line","color":"#ff8533","strokeWidth":1.2},
    "encoding":{
     "x":{"field":"x","type":"quantitative","scale":{"domain":[1951,2021],"nice":false},"axis":{"values":[1951,1961,1971,1981,1991,2001,2011,2021],"format":"d","title":"year","grid":true,"tickSize":4,"labelPadding":3,"titlePadding":3}},
     "y":{"field":"v","type":"quantitative","scale":{"domain":[-4,4],"nice":false},"axis":{"values":[-4,-3,-2,-1,0,1,2,3,4],"labelExpr":"datum.value % 2 != 0 ? '' : (datum.value == 0 ? '0' : (datum.value < 0 ? '-' + format(-datum.value, '.1f') : format(datum.value, '.1f')))","labelOverlap":false,"title":"C","grid":false,"tickSize":4,"labelPadding":2}},
     "strokeDash":{"field":"s","type":"nominal","scale":{"domain":["av","min","max"],"range":[[1,0],[1.5,2],[4,3]]},"legend":null}}}
  ]},
 {"width":229,"height":131,
  "layer":[
   {"data":{"values":[{}]},"mark":{"type":"rule","color":"#b4b4b4"},"encoding":{"y":{"datum":0,"type":"quantitative","scale":{"domain":[-4,4],"nice":false},"axis":{"values":[-4,-3,-2,-1,0,1,2,3,4],"labelExpr":"datum.value % 2 != 0 ? '' : (datum.value == 0 ? '0' : (datum.value < 0 ? '-' + format(-datum.value, '.1f') : format(datum.value, '.1f')))","labelOverlap":false,"title":"D","grid":false,"tickSize":4,"labelPadding":2}}}},
   {"data":{"name":"D"},"mark":{"type":"line","color":"#ff3b3b","strokeWidth":1.2},
    "encoding":{
     "x":{"field":"x","type":"quantitative","scale":{"domain":[1951,2021],"nice":false},"axis":{"values":[1951,1961,1971,1981,1991,2001,2011,2021],"format":"d","title":"year","grid":true,"tickSize":4,"labelPadding":3,"titlePadding":3}},
     "y":{"field":"v","type":"quantitative","scale":{"domain":[-4,4],"nice":false},"axis":{"values":[-4,-3,-2,-1,0,1,2,3,4],"labelExpr":"datum.value % 2 != 0 ? '' : (datum.value == 0 ? '0' : (datum.value < 0 ? '-' + format(-datum.value, '.1f') : format(datum.value, '.1f')))","labelOverlap":false,"title":"D","grid":false,"tickSize":4,"labelPadding":2}},
     "strokeDash":{"field":"s","type":"nominal","scale":{"domain":["av","min","max"],"range":[[1,0],[1.5,2],[4,3]]},"legend":null}}}
  ]}
 ]}
]
}
